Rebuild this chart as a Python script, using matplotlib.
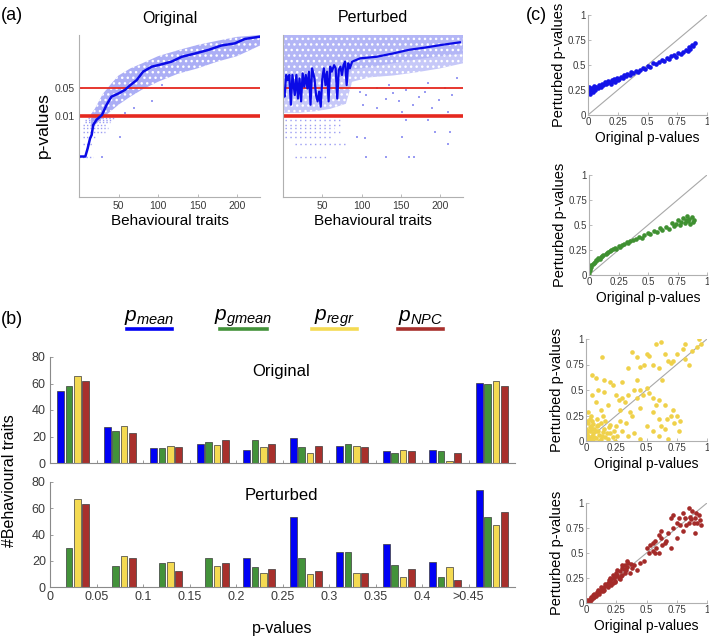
import numpy as np
import matplotlib
matplotlib.use('Agg')
import matplotlib.pyplot as plt
from matplotlib.lines import Line2D
from matplotlib.ticker import NullLocator

plt.rcParams['font.family'] = ['Liberation Sans', 'DejaVu Sans']
plt.rcParams['mathtext.fontset'] = 'custom'
plt.rcParams['mathtext.it'] = 'Liberation Sans:italic'
plt.rcParams['mathtext.rm'] = 'Liberation Sans'
plt.rcParams['hatch.linewidth'] = 1.0

# ---------------- (a) DATA: sorted p-values per behavioural trait ----------------
orig_x = [0, 8, 11, 14, 16, 18, 22, 29, 35, 41, 50, 58, 65, 73, 81, 92, 105, 117,
          130, 147, 164, 180, 197, 210, 229]
orig_p = [0.001, 0.001, 0.0016, 0.0028, 0.0034, 0.006, 0.008, 0.0106, 0.019, 0.030,
          0.036, 0.044, 0.058, 0.077, 0.124, 0.165, 0.19, 0.22, 0.29, 0.35, 0.43,
          0.55, 0.62, 0.80, 0.91]
# spread of the per-permutation cloud around the curve
orig_env_x = [15, 20, 30, 40, 50, 65, 80, 100, 125, 150, 175, 200, 229]
orig_env_lo = [0.005, 0.006, 0.009, 0.013, 0.019, 0.03, 0.045, 0.07, 0.11, 0.15, 0.22, 0.3, 0.55]
orig_env_hi = [0.011, 0.015, 0.035, 0.06, 0.1, 0.15, 0.2, 0.3, 0.42, 0.57, 0.72, 0.9, 1.0]
# discrete permutation levels below 0.01
orig_row_p = [0.001, 0.002, 0.003, 0.004, 0.005, 0.006, 0.007, 0.008, 0.009]
orig_row_x0 = [0, 5.5, 5.5, 5.5, 5.5, 5.5, 7.6, 7.6, 12]
orig_row_x1 = [18, 16, 20, 33, 37, 35, 39, 41, 45]
orig_out_x = [28.7, 52, 92, 105, 58, 70]
orig_out_p = [0.001, 0.003, 0.023, 0.058, 0.012, 0.016]

pert_x = [0, 2, 4, 6, 8, 10, 12, 15, 17, 19, 21, 23, 25, 27, 29, 31, 33, 35, 37, 40,
          42, 44, 46, 48, 50, 52, 54, 56, 58, 60, 62, 65, 67, 69, 71, 73, 75, 77, 79,
          81, 83, 85, 88, 98, 119, 140, 160, 181, 202, 225]
pert_p = [0.040, 0.030, 0.103, 0.077, 0.103, 0.019, 0.103, 0.033, 0.103, 0.027,
          0.085, 0.023, 0.113, 0.053, 0.103, 0.048, 0.124, 0.019, 0.150, 0.085,
          0.033, 0.023, 0.040, 0.017, 0.085, 0.150, 0.058, 0.124, 0.023, 0.165,
          0.124, 0.18, 0.150, 0.027, 0.137, 0.165, 0.103, 0.18, 0.22, 0.058,
          0.20, 0.150, 0.22, 0.265, 0.29, 0.35, 0.43, 0.49, 0.57, 0.66]
pert_env_x = [0, 20, 40, 60, 80, 88, 110, 140, 170, 200, 229]
pert_env_lo = [0.012, 0.012, 0.013, 0.015, 0.02, 0.07, 0.09, 0.1, 0.12, 0.15, 0.2]
pert_band_lo = [0.05, 0.06, 0.07, 0.08, 0.1, 0.14, 0.16, 0.2, 0.25, 0.3, 0.35]
pert_row_p = [0.001, 0.002, 0.003, 0.004, 0.005, 0.006, 0.008]
pert_row_x0 = [15, 15, 2, 2, 2, 2, 2]
pert_row_x1 = [56, 81, 62, 73, 65, 73, 73]
pert_out_x = [98, 106, 119, 131, 140, 148, 156, 165, 173, 181, 190, 198, 206, 215,
              221, 119, 152, 185, 210, 102, 135, 104, 106, 131, 160, 167, 152, 212,
              210, 194, 94, 156, 185]
pert_out_p = [0.040, 0.033, 0.048, 0.027, 0.036, 0.023, 0.044, 0.019, 0.030, 0.040,
              0.0155, 0.025, 0.048, 0.033, 0.085, 0.0155, 0.0128, 0.064, 0.0128, 0.019,
              0.058, 0.0028, 0.001, 0.001, 0.001, 0.001, 0.003, 0.004, 0.002, 0.004,
              0.003, 0.008, 0.008]

# ---------------- (b) DATA: histogram of p-values ----------------
bin_labels = ['0', '0.05', '0.1', '0.15', '0.2', '0.25', '0.3', '0.35', '0.4', '>0.45']
methods = ['mean', 'gmean', 'regr', 'NPC']
orig_counts = {
    'mean':  [54, 27, 11, 14.5, 10, 19, 12.5, 9, 10, 60.5],
    'gmean': [58, 24, 11, 16, 17, 12, 14, 7.5, 9, 59.5],
    'regr':  [66, 28, 12.5, 13.5, 12, 7.5, 12.5, 10, 1.5, 62],
    'NPC':   [62, 23, 12, 17, 14, 12.5, 12, 9, 7.5, 58],
}
pert_counts = {
    'mean':  [0, 0, 0, 0, 22, 53, 27, 33, 19, 74],
    'gmean': [30, 16, 18, 22, 15, 22, 27, 17, 8, 53],
    'regr':  [67, 24, 19, 16, 11, 10, 11, 8, 15, 47],
    'NPC':   [63, 22, 12, 18, 14, 12, 11, 14, 5, 57],
}
bar_colors = {'mean': '#0000f5', 'gmean': '#43923a', 'regr': '#f4da52', 'NPC': '#a8302c'}

# ---------------- (c) DATA: original vs perturbed p-values ----------------
c_mean_x = [0.00, 0.00, 0.01, 0.01, 0.02, 0.02, 0.03, 0.04, 0.05, 0.05,
            0.06, 0.07, 0.08, 0.09, 0.10, 0.11, 0.12, 0.13, 0.14, 0.15,
            0.16, 0.17, 0.18, 0.19, 0.20, 0.21, 0.22, 0.23, 0.24, 0.25,
            0.26, 0.28, 0.29, 0.30, 0.32, 0.33, 0.35, 0.36, 0.38, 0.40,
            0.42, 0.44, 0.46, 0.48, 0.50, 0.52, 0.55, 0.57, 0.60, 0.62,
            0.64, 0.66, 0.68, 0.70, 0.72, 0.74, 0.76, 0.78, 0.80, 0.82,
            0.84, 0.85, 0.86, 0.87, 0.88, 0.90]
c_mean_y = [0.22, 0.26, 0.24, 0.28, 0.21, 0.25, 0.27, 0.23, 0.26, 0.29,
            0.25, 0.28, 0.27, 0.30, 0.29, 0.28, 0.31, 0.30, 0.33, 0.31,
            0.32, 0.34, 0.33, 0.31, 0.35, 0.34, 0.36, 0.33, 0.37, 0.35,
            0.36, 0.38, 0.37, 0.40, 0.39, 0.41, 0.40, 0.43, 0.42, 0.44,
            0.43, 0.45, 0.47, 0.46, 0.49, 0.48, 0.52, 0.51, 0.53, 0.55,
            0.54, 0.57, 0.56, 0.59, 0.60, 0.58, 0.62, 0.61, 0.63, 0.65,
            0.64, 0.68, 0.66, 0.70, 0.69, 0.72]
c_gmean_x = [0.00, 0.00, 0.01, 0.01, 0.02, 0.02, 0.03, 0.04, 0.05, 0.06,
             0.07, 0.08, 0.09, 0.10, 0.11, 0.12, 0.14, 0.15, 0.16, 0.18,
             0.19, 0.20, 0.22, 0.23, 0.25, 0.26, 0.28, 0.30, 0.32, 0.33,
             0.35, 0.37, 0.40, 0.42, 0.45, 0.47, 0.50, 0.52, 0.55, 0.58,
             0.60, 0.62, 0.65, 0.68, 0.70, 0.72, 0.74, 0.75, 0.77, 0.78,
             0.80, 0.81, 0.82, 0.83, 0.84, 0.85, 0.86, 0.87, 0.88, 0.89]
c_gmean_y = [0.00, 0.03, 0.05, 0.07, 0.08, 0.10, 0.11, 0.12, 0.13, 0.15,
             0.15, 0.17, 0.16, 0.18, 0.19, 0.20, 0.21, 0.22, 0.23, 0.24,
             0.25, 0.26, 0.27, 0.26, 0.29, 0.28, 0.30, 0.31, 0.33, 0.32,
             0.34, 0.35, 0.36, 0.38, 0.37, 0.40, 0.42, 0.41, 0.44, 0.43,
             0.47, 0.45, 0.48, 0.46, 0.52, 0.49, 0.51, 0.55, 0.50, 0.53,
             0.57, 0.52, 0.55, 0.59, 0.54, 0.56, 0.51, 0.58, 0.53, 0.55]
c_regr_x = [0.38, 0.42, 0.50, 0.52, 0.48, 0.45, 0.55, 0.58, 0.62, 0.65,
            0.68, 0.70, 0.72, 0.75, 0.80, 0.82, 0.88, 0.92, 0.95, 0.93,
            0.82, 0.85, 0.60, 0.05, 0.10, 0.15, 0.20, 0.22, 0.25, 0.30,
            0.32, 0.35, 0.40, 0.45, 0.50, 0.55, 0.60, 0.63, 0.65, 0.70,
            0.72, 0.75, 0.78, 0.60, 0.55, 0.45, 0.38, 0.30, 0.28, 0.18,
            0.12, 0.08, 0.02, 0.50, 0.55, 0.60, 0.65, 0.68, 0.40, 0.35,
            0.45, 0.30, 0.25, 0.00, 0.01, 0.02, 0.03, 0.04, 0.05, 0.06,
            0.07, 0.08, 0.10, 0.12, 0.13, 0.15, 0.18, 0.20, 0.22, 0.02,
            0.00, 0.01, 0.03, 0.09, 0.16, 0.11, 0.19, 0.05, 0.04, 0.14,
            0.13, 0.05, 0.08, 0.35, 0.00, 0.06, 0.09, 0.03, 0.17, 0.24,
            0.01, 0.02, 0.03, 0.04, 0.05, 0.06, 0.07, 0.08, 0.10, 0.11,
            0.12, 0.14, 0.16, 0.20, 0.23, 0.26, 0.28, 0.33, 0.36, 0.42,
            0.47, 0.52, 0.58, 0.67, 0.73, 0.77, 0.62, 0.42, 0.27, 0.15]
c_regr_y = [0.87, 0.82, 0.85, 0.83, 0.75, 0.73, 0.75, 0.95, 0.97, 0.85,
            0.78, 0.76, 0.78, 0.85, 0.90, 0.95, 0.88, 0.92, 0.95, 1.00,
            0.80, 0.75, 0.72, 0.45, 0.50, 0.48, 0.58, 0.55, 0.45, 0.42,
            0.38, 0.45, 0.50, 0.50, 0.52, 0.42, 0.40, 0.60, 0.35, 0.25,
            0.30, 0.25, 0.20, 0.22, 0.28, 0.32, 0.25, 0.58, 0.30, 0.35,
            0.30, 0.38, 0.28, 0.15, 0.10, 0.05, 0.12, 0.02, 0.08, 0.05,
            0.02, 0.10, 0.15, 0.00, 0.02, 0.05, 0.10, 0.15, 0.20, 0.08,
            0.12, 0.03, 0.10, 0.18, 0.05, 0.12, 0.02, 0.08, 0.04, 0.18,
            0.12, 0.20, 0.00, 0.22, 0.20, 0.00, 0.14, 0.05, 0.25, 0.25,
            0.82, 0.65, 0.62, 0.72, 0.08, 0.00, 0.15, 0.22, 0.08, 0.00,
            0.06, 0.10, 0.14, 0.02, 0.12, 0.17, 0.04, 0.10, 0.16, 0.06,
            0.02, 0.09, 0.04, 0.16, 0.10, 0.05, 0.20, 0.18, 0.28, 0.42,
            0.45, 0.47, 0.35, 0.22, 0.18, 0.10, 0.15, 0.60, 0.40, 0.60]
c_npc_x = [0.00, 0.02, 0.03, 0.05, 0.06, 0.08, 0.10, 0.10, 0.12, 0.14,
           0.15, 0.17, 0.18, 0.20, 0.20, 0.22, 0.22, 0.25, 0.25, 0.27,
           0.28, 0.30, 0.30, 0.32, 0.33, 0.35, 0.36, 0.38, 0.40, 0.42,
           0.50, 0.52, 0.55, 0.55, 0.58, 0.60, 0.62, 0.62, 0.65, 0.68,
           0.70, 0.72, 0.75, 0.75, 0.78, 0.80, 0.82, 0.85, 0.85, 0.88,
           0.90, 0.90, 0.92, 0.95, 0.80, 0.70, 0.45, 0.48, 0.60, 0.01,
           0.04, 0.07, 0.09, 0.13, 0.16, 0.19, 0.21, 0.24, 0.26, 0.29,
           0.31, 0.34, 0.37, 0.87, 0.93, 0.66, 0.57,
           0.01, 0.03, 0.04, 0.06, 0.07, 0.09, 0.11, 0.12, 0.14, 0.16,
           0.18, 0.19, 0.21, 0.23, 0.24, 0.26, 0.28, 0.30, 0.32, 0.34,
           0.53, 0.57, 0.63, 0.72, 0.77, 0.83, 0.86, 0.89, 0.94, 0.91]
c_npc_y = [0.00, 0.02, 0.04, 0.05, 0.08, 0.07, 0.10, 0.13, 0.12, 0.15,
           0.13, 0.18, 0.20, 0.22, 0.25, 0.28, 0.20, 0.27, 0.30, 0.25,
           0.32, 0.35, 0.28, 0.38, 0.33, 0.40, 0.30, 0.35, 0.38, 0.33,
           0.55, 0.50, 0.60, 0.52, 0.55, 0.68, 0.65, 0.72, 0.60, 0.70,
           0.85, 0.88, 0.80, 0.65, 0.78, 0.90, 0.85, 0.80, 0.95, 0.92,
           0.70, 0.85, 0.80, 0.78, 0.72, 0.55, 0.40, 0.42, 0.50, 0.01,
           0.03, 0.06, 0.09, 0.14, 0.17, 0.19, 0.24, 0.22, 0.28, 0.27,
           0.34, 0.36, 0.39, 0.84, 0.88, 0.62, 0.62,
           0.03, 0.02, 0.06, 0.05, 0.09, 0.11, 0.09, 0.16, 0.12, 0.19,
           0.16, 0.23, 0.18, 0.25, 0.21, 0.33, 0.24, 0.38, 0.30, 0.42,
           0.58, 0.50, 0.58, 0.75, 0.85, 0.78, 0.86, 0.80, 0.83, 0.90]

# ---------------- layout helpers ----------------
W, H = 709, 640
fig = plt.figure(figsize=(W / 100, H / 100), dpi=100)


def box(x0, y0, x1, y1):
    return [x0 / W, 1 - y1 / H, (x1 - x0) / W, (y1 - y0) / H]


def style(ax, spine='#b0b0b0', size=7.5):
    for s in ['top', 'right']:
        ax.spines[s].set_visible(False)
    for s in ['left', 'bottom']:
        ax.spines[s].set_color(spine)
        ax.spines[s].set_linewidth(0.8)
    ax.tick_params(direction='in', length=2.5, width=0.6, color=spine,
                   labelsize=size, labelcolor='#3a3a3a', pad=3)


# ---------------- (a) ----------------
line_blue = '#0a0ae6'
red = '#e5281f'
for i, name in enumerate(['Original', 'Perturbed']):
    ax = fig.add_axes(box(79, 35, 260, 197) if i == 0 else box(283, 35, 463, 197))
    ax.set_yscale('log')
    if i == 0:
        ax.fill_between(orig_env_x, orig_env_lo, orig_env_hi, facecolor='#abaef5',
                        edgecolor='#ffffff', hatch='...', lw=0)
        ax.hlines(orig_row_p, orig_row_x0, orig_row_x1, colors='#9a9cf3',
                  linestyles=(0, (1, 1.5)), lw=1.0)
        ax.scatter(orig_out_x, orig_out_p, s=1.5, color='#9a9cf3', marker='s', lw=0)
    else:
        ax.fill_between(pert_env_x, pert_env_lo, 1.0, facecolor='#c6c8f8',
                        edgecolor='#ffffff', hatch='...', lw=0)
        ax.fill_between(pert_env_x, pert_band_lo, 1.0, facecolor='#b3b6f6',
                        edgecolor='#ffffff', hatch='...', lw=0)
        ax.hlines(pert_row_p, pert_row_x0, pert_row_x1, colors='#9a9cf3',
                  linestyles=(0, (1, 2.5)), lw=1.0)
        ax.scatter(pert_out_x, pert_out_p, s=1.5, color='#9a9cf3', marker='s', lw=0)
    ax.axhline(0.05, color=red, lw=1.3)
    ax.axhline(0.01, color=red, lw=2.6)
    if i == 0:
        ax.plot(orig_x, orig_p, color=line_blue, lw=1.8)
    else:
        ax.plot(pert_x, pert_p, color=line_blue, lw=1.6)
    ax.set_xlim(0, 229)
    ax.set_ylim(1e-4, 1.0)
    ax.yaxis.set_minor_locator(NullLocator())
    ax.set_yticks([0.01, 0.05])
    ax.set_yticklabels(['0.01', '0.05'] if i == 0 else [])
    ax.set_xticks([50, 100, 150, 200])
    style(ax, size=7.5)
    ax.set_title(name, fontsize=11.5, pad=9)
    ax.set_xlabel('Behavioural traits', fontsize=11, labelpad=2)

fig.text(43 / W, 1 - 125 / H, 'p-values', rotation=90, fontsize=12.5,
         ha='center', va='center')

# ---------------- (b) ----------------
pos = np.arange(len(bin_labels)) + 0.5
bw = 0.145
step = 0.18
for j, (counts, title, y0, y1) in enumerate([(orig_counts, 'Original', 357, 463),
                                             (pert_counts, 'Perturbed', 482, 587)]):
    ax = fig.add_axes(box(50, y0, 515, y1))
    for k, m in enumerate(methods):
        ax.bar(pos + (k - 1.5) * step, counts[m], width=bw, color=bar_colors[m],
               edgecolor='#3a3a3a', linewidth=0.5)
    ax.set_xlim(0, 10)
    ax.set_ylim(0, 80)
    ax.set_yticks([0, 20, 40, 60, 80])
    ax.set_xticks(np.arange(len(bin_labels)))
    ax.set_xticklabels(bin_labels if j == 1 else [])
    style(ax, spine='#8a8a8a', size=9)
    ax.text(0.497, 0.86 if j == 0 else 0.875, title, transform=ax.transAxes,
            ha='center', va='center', fontsize=12)
    if j == 1:
        ax.set_xlabel('p-values', fontsize=11.5, labelpad=13)

fig.text(10 / W, 1 - 481 / H, '#Behavioural traits', rotation=90, fontsize=11.5,
         ha='center', va='center')

# legend of (b)
leg = [('mean', 127, 172), ('gmean', 220, 267), ('regr', 312, 357), ('NPC', 398, 443)]
for m, x0, x1 in leg:
    fig.text((x0 + x1) / 2 / W, 1 - 321 / H, r'$p_{%s}$' % m, fontsize=15,
             ha='center', va='baseline')
    fig.add_artist(Line2D([x0 / W, x1 / W], [1 - 329 / H, 1 - 329 / H],
                          color=bar_colors[m], lw=2.6, transform=fig.transFigure))

# ---------------- (c) ----------------
c_sets = [(c_mean_x, c_mean_y, '#1414e8', (588, 15, 707, 115)),
          (c_gmean_x, c_gmean_y, '#3f9031', (589, 175, 707, 275)),
          (c_regr_x, c_regr_y, '#efd14a', (586, 339, 707, 441)),
          (c_npc_x, c_npc_y, '#a42b29', (586, 503, 707, 603))]
for xs, ys, col, b in c_sets:
    ax = fig.add_axes(box(*b))
    ax.axline((0, 0), slope=1, color='#a8a8a8', lw=0.8, zorder=1)
    ax.scatter(xs, ys, s=11, color=col, lw=0, zorder=2)
    ax.set_xlim(0, 1)
    ax.set_ylim(0, 1)
    ax.set_xticks([0, 0.25, 0.5, 0.75, 1])
    ax.set_yticks([0, 0.25, 0.5, 0.75, 1])
    ax.set_xticklabels(['0', '0.25', '0.5', '0.75', '1'])
    ax.set_yticklabels(['0', '0.25', '0.5', '0.75', '1'])
    style(ax, size=7)
    ax.tick_params(pad=1.5)
    ax.set_xlabel('Original p-values', fontsize=10, labelpad=3)
    ax.set_ylabel('Perturbed p-values', fontsize=10.5, labelpad=1)

# panel letters
fig.text(1 / W, 1 - 15 / H, '(a)', fontsize=13, va='center')
fig.text(1 / W, 1 - 320 / H, '(b)', fontsize=13, va='center')
fig.text(526 / W, 1 - 15 / H, '(c)', fontsize=13, va='center')

fig.savefig('out.png', dpi=100)
